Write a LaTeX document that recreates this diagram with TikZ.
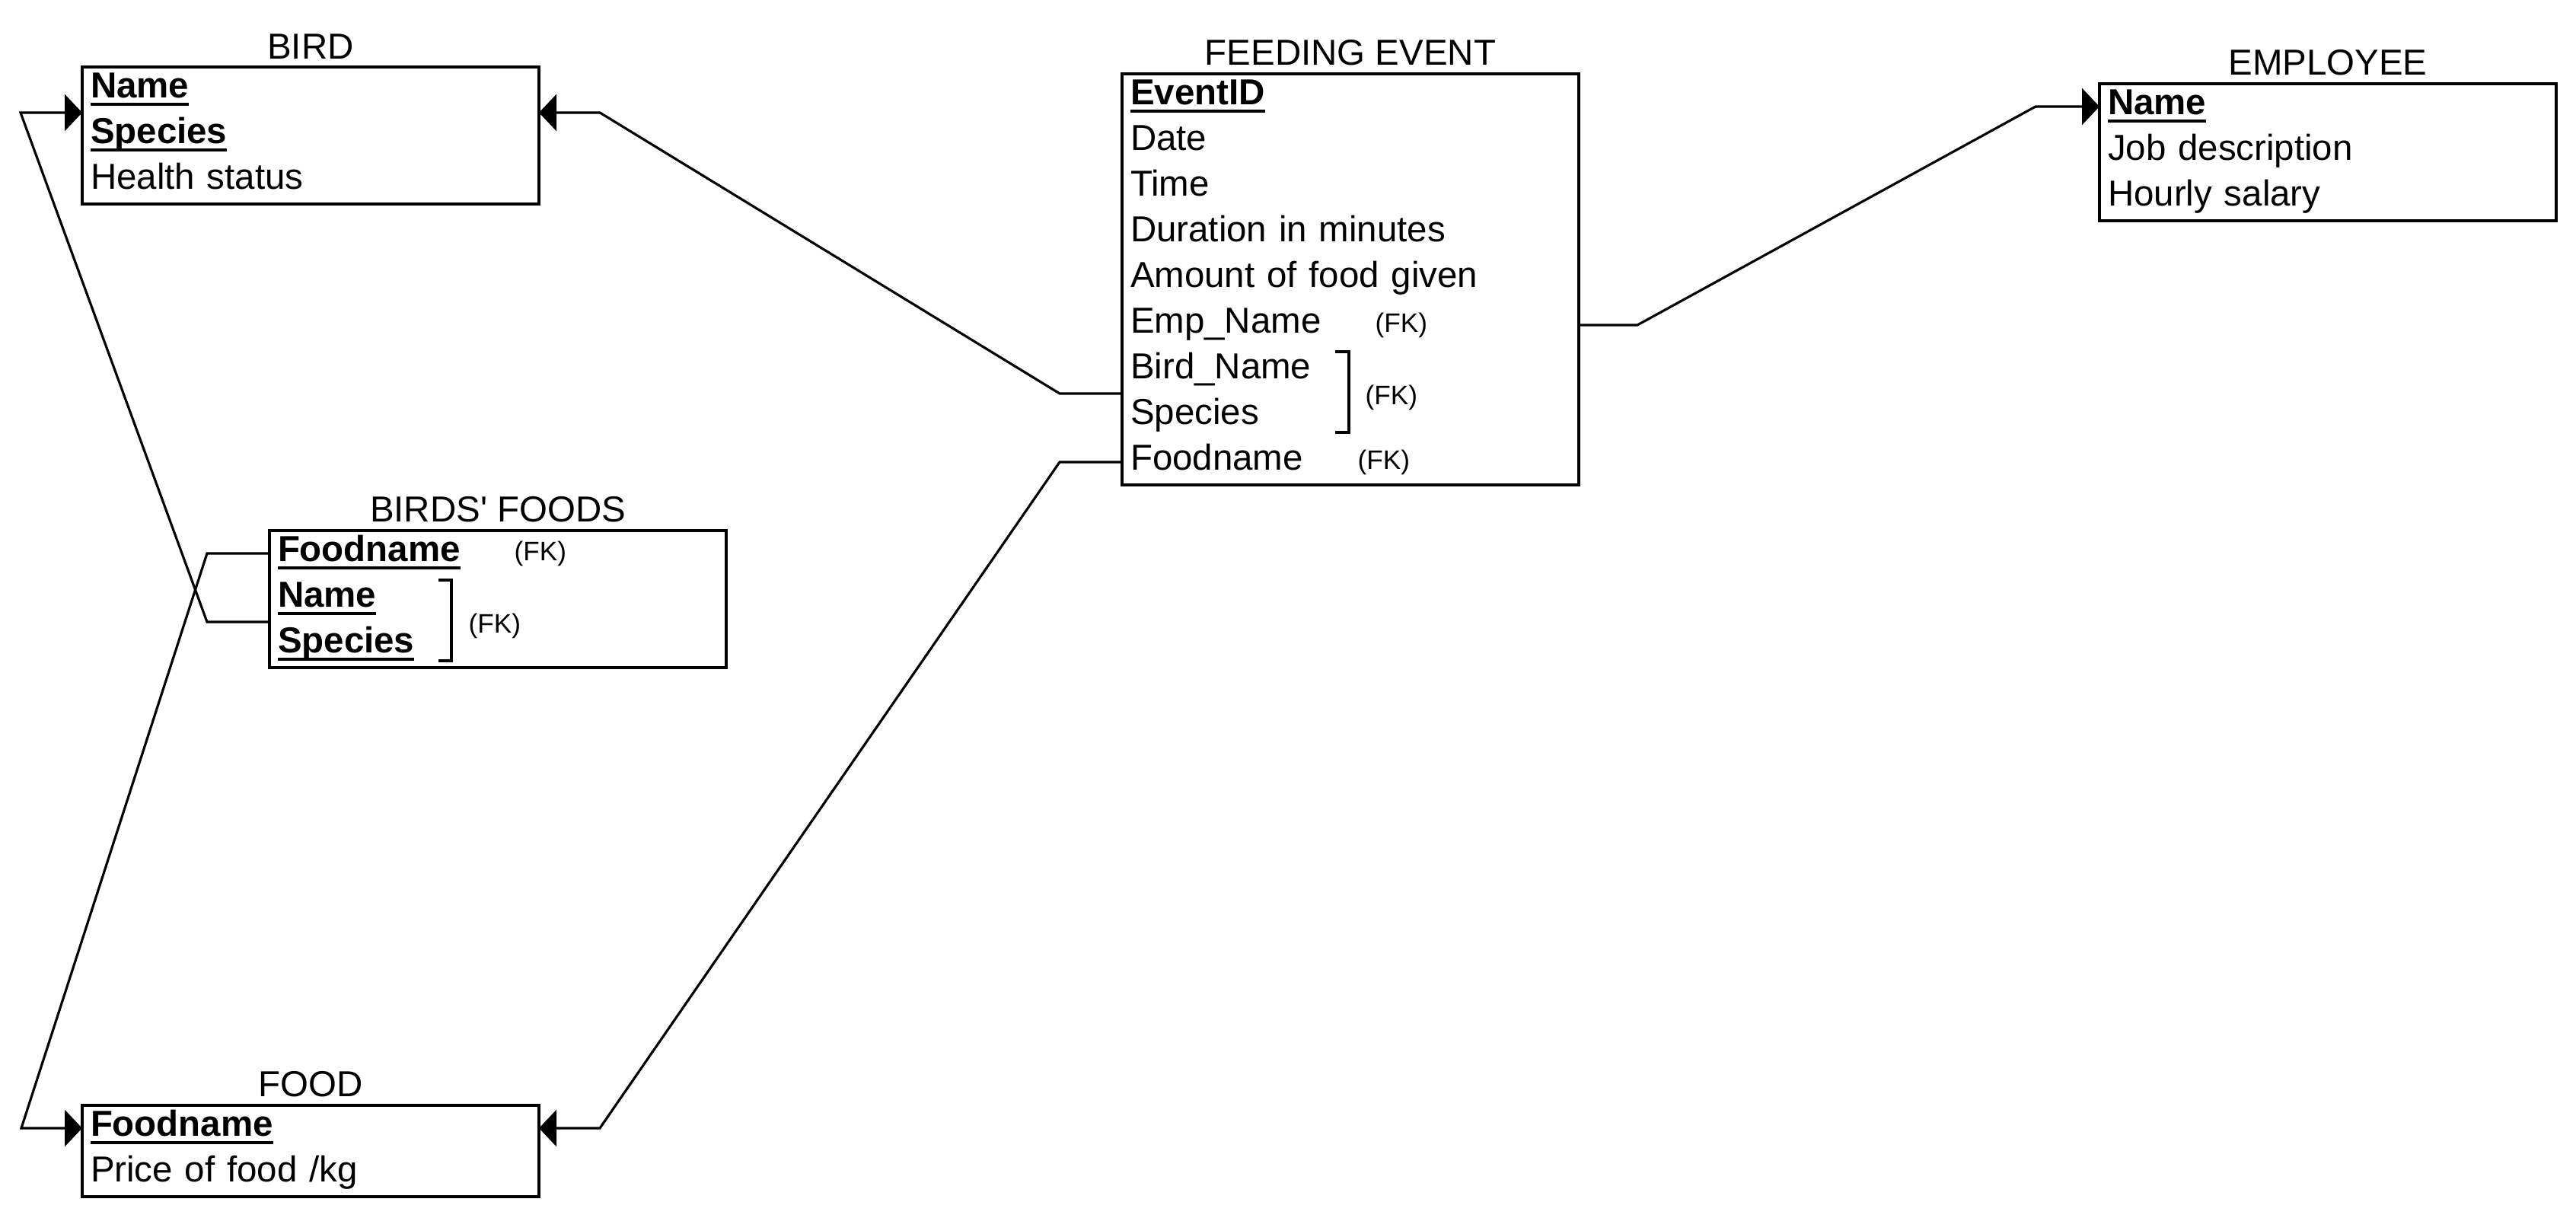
\documentclass[tikz,border=0pt]{standalone}
\usepackage{fontspec}
\setmainfont{Liberation Sans}
\usetikzlibrary{arrows.meta,positioning}
\newsavebox{\keybox}
\newcommand{\pkey}[1]{\sbox{\keybox}{\textbf{#1}}\usebox{\keybox}\llap{\rule[-0.1cm]{\wd\keybox}{0.035cm}}}

\begin{document}
\begin{tikzpicture}[
  row/.style={text width=5.78cm, inner xsep=0.11cm, inner ysep=0pt, outer sep=0pt, minimum height=0.6cm,
    align=left, text height=0.34cm, text depth=0.12cm, font=\fontsize{13.5}{16}\selectfont},
  title/.style={inner sep=0pt, font=\fontsize{13.5}{16}\selectfont},
  fk/.style={inner sep=0pt, anchor=west, font=\fontsize{10}{12}\selectfont},
  box/.style={line width=1.2pt},
  link/.style={line width=0.9pt, -{Triangle[length=0.23cm,width=0.48cm]}},
  bracket/.style={line width=1pt}]
\useasboundingbox (0,0) rectangle (33.84,16);

% BIRD
\node[row, anchor=north west] (B1) at (1.08,15.12) {\pkey{Name}};
\node[row, below=0pt of B1] (B2) {\pkey{Species}};
\node[row, below=0pt of B2] (B3) {Health status};
\draw[box] (B1.north west) rectangle (B3.south east);
\node[title, above=0.1cm of B1.north] (tB) {BIRD};

% BIRDS' FOODS
\node[row, anchor=north west] (BF1) at (3.54,9.03) {\pkey{Foodname}};
\node[row, below=0pt of BF1] (BF2) {\pkey{Name}};
\node[row, below=0pt of BF2] (BF3) {\pkey{Species}};
\draw[box] (BF1.north west) rectangle (BF3.south east);
\node[title, above=0.1cm of BF1.north] (tBF) {BIRDS\textquotesingle{} FOODS};
\node[fk] (fkBF1) at ([xshift=3.21cm]BF1.west) {(FK)};
\draw[bracket] ([xshift=2.22cm,yshift=0.25cm]BF2.west) -| ([xshift=2.39cm,yshift=-0.21cm]BF3.west) -- ++(-0.17,0);
\node[fk] (fkBF23) at ([xshift=2.61cm,yshift=-0.05cm]BF2.south west) {(FK)};

% FOOD
\node[row, anchor=north west] (F1) at (1.08,1.48) {\pkey{Foodname}};
\node[row, below=0pt of F1] (F2) {Price of food /kg};
\draw[box] (F1.north west) rectangle (F2.south east);
\node[title, above=0.1cm of F1.north] (tF) {FOOD};

% FEEDING EVENT
\node[row, anchor=north west] (EV1) at (14.74,15.03) {\pkey{EventID}};
\node[row, below=0pt of EV1] (EV2) {Date};
\node[row, below=0pt of EV2] (EV3) {Time};
\node[row, below=0pt of EV3] (EV4) {Duration in minutes};
\node[row, below=0pt of EV4] (EV5) {Amount of food given};
\node[row, below=0pt of EV5] (EV6) {Emp\_Name};
\node[row, below=0pt of EV6] (EV7) {Bird\_Name};
\node[row, below=0pt of EV7] (EV8) {Species};
\node[row, below=0pt of EV8] (EV9) {Foodname};
\draw[box] (EV1.north west) rectangle (EV9.south east);
\node[title, above=0.1cm of EV1.north] (tEV) {FEEDING EVENT};
\node[fk] (fkEV6) at ([xshift=3.32cm]EV6.west) {(FK)};
\draw[bracket] ([xshift=2.8cm,yshift=0.25cm]EV7.west) -| ([xshift=2.98cm,yshift=-0.21cm]EV8.west) -- ++(-0.18,0);
\node[fk] (fkEV78) at ([xshift=3.19cm,yshift=-0.05cm]EV7.south west) {(FK)};
\node[fk] (fkEV9) at ([xshift=3.09cm]EV9.west) {(FK)};

% EMPLOYEE
\node[row, anchor=north west] (EM1) at (27.58,14.9) {\pkey{Name}};
\node[row, below=0pt of EM1] (EM2) {Job description};
\node[row, below=0pt of EM2] (EM3) {Hourly salary};
\draw[box] (EM1.north west) rectangle (EM3.south east);
\node[title, above=0.1cm of EM1.north] (tEM) {EMPLOYEE};

% links
\draw[link] (BF2.south west) -- ++(-0.82,0) -- ([xshift=-0.81cm]B1.south west) -- (B1.south west);
\draw[link] (BF1.west) -- ++(-0.82,0) -- ([xshift=-0.8cm]F1.west) -- (F1.west);
\draw[link] (EV7.south west) -- ++(-0.82,0) -- ([xshift=0.8cm]B1.south east) -- (B1.south east);
\draw[link] (EV9.west) -- ++(-0.82,0) -- ([xshift=0.8cm]F1.east) -- (F1.east);
\draw[link] (EV6.east) -- ++(0.77,0) -- ([xshift=-0.84cm]EM1.west) -- (EM1.west);
\end{tikzpicture}
\end{document}
